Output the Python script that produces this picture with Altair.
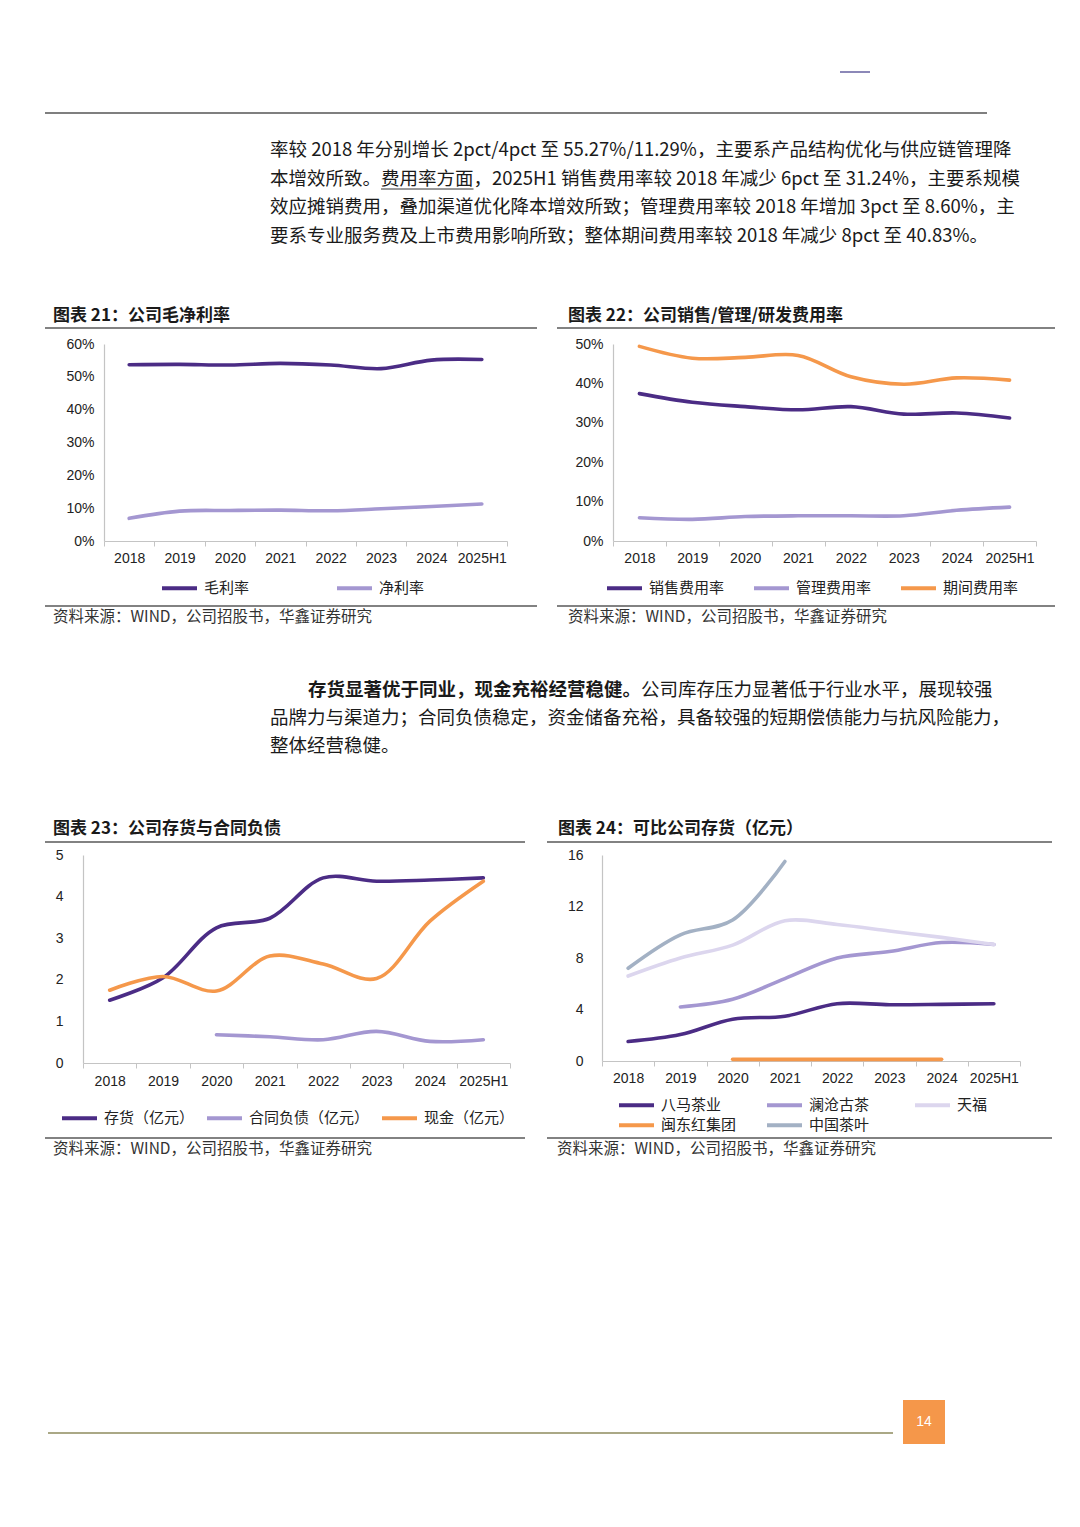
import altair as alt
import pandas as pd

CJK = "Noto Sans CJK SC"
LAT = "Liberation Sans"

# ---------------- data ----------------
years = ["2018", "2019", "2020", "2021", "2022", "2023", "2024", "2025H1"]

# 图表21 公司毛净利率 (%)
gross_margin = [53.7, 53.8, 53.6, 54.1, 53.6, 52.5, 55.1, 55.27]
net_margin = [6.9, 9.1, 9.3, 9.4, 9.2, 9.8, 10.5, 11.29]

# 图表22 公司销售/管理/研发费用率 (%)
selling_rate = [37.4, 35.2, 34.1, 33.3, 34.1, 32.2, 32.5, 31.24]
admin_rate = [5.9, 5.5, 6.2, 6.4, 6.4, 6.4, 7.8, 8.60]
period_rate = [49.4, 46.4, 46.6, 47.1, 41.7, 39.8, 41.4, 40.83]

# 图表23 公司存货与合同负债 (亿元)
inventory = [1.51, 2.05, 3.25, 3.48, 4.45, 4.37, 4.40, 4.45]
contract_liab = [None, None, 0.68, 0.63, 0.56, 0.76, 0.52, 0.56]
cash = [1.75, 2.08, 1.73, 2.57, 2.38, 2.03, 3.41, 4.37]

# 图表24 可比公司存货 (亿元)
bama = [1.51, 2.05, 3.25, 3.48, 4.45, 4.37, 4.40, 4.45]
lancang = [None, 4.2, 4.8, 6.4, 8.0, 8.5, 9.2, 9.05]
tianfu = [6.6, 8.0, 9.0, 10.9, 10.6, 10.1, 9.6, 9.05]
mindong = [None, None, 0.13, 0.13, 0.13, 0.13, 0.13, None]
china_tea = [7.2, 9.8, 10.95, 15.5, None, None, None, None]

para1 = [
    "率较 2018 年分别增长 2pct/4pct 至 55.27%/11.29%，主要系产品结构优化与供应链管理降",
    "本增效所致。费用率方面，2025H1 销售费用率较 2018 年减少 6pct 至 31.24%，主要系规模",
    "效应摊销费用，叠加渠道优化降本增效所致；管理费用率较 2018 年增加 3pct 至 8.60%，主",
    "要系专业服务费及上市费用影响所致；整体期间费用率较 2018 年减少 8pct 至 40.83%。",
]
para2_bold = "存货显著优于同业，现金充裕经营稳健。"
para2_rest = "公司库存压力显著低于行业水平，展现较强"
para2_lines = [
    "品牌力与渠道力；合同负债稳定，资金储备充裕，具备较强的短期偿债能力与抗风险能力，",
    "整体经营稳健。",
]
titles = ["图表 21：公司毛净利率", "图表 22：公司销售/管理/研发费用率",
          "图表 23：公司存货与合同负债", "图表 24：可比公司存货（亿元）"]
source = "资料来源：WIND，公司招股书，华鑫证券研究"
page_no = "14"

DARK = "#4b2c85"
LIGHT = "#a497d1"
ORANGE = "#f5984b"
LAVENDER = "#dcd6ee"
GREYBLUE = "#a3b1c4"

ONE = pd.DataFrame({"k": [0]})
PF = 18.5   # paragraph font size
TF = 17     # chart title font size
SF = 15.5   # source font size


def txt(s, x, y, size=PF, weight="normal", color="#1a1a1a", font=CJK, align="left"):
    return alt.Chart(ONE).mark_text(text=s, align=align, baseline="middle", fontSize=size,
                                    fontWeight=weight, color=color, font=font).encode(
        x=alt.value(x), y=alt.value(y))


def hline(x1, x2, y, color="#595959", w=1.5):
    return alt.Chart(ONE).mark_rule(color=color, strokeWidth=w).encode(
        x=alt.value(x1), x2=alt.value(x2), y=alt.value(y))


def spacer(w, h):
    return alt.Chart(ONE).mark_point(opacity=0, size=1).encode(
        x=alt.value(w / 2), y=alt.value(h / 2)).properties(width=w, height=h)


def long_df(series):
    rows = []
    for name, vals in series:
        for yr, v in zip(years, vals):
            if v is not None:
                rows.append({"year": yr, "series": name, "value": v})
    return pd.DataFrame(rows)


def enc_xy(ydomain, yvalues, ylabpad, xlabpad, pct):
    yaxis = dict(title=None, values=yvalues, ticks=False, grid=False, labelPadding=ylabpad,
                 labelFontSize=14, labelFont=LAT, labelColor="#222")
    if pct:
        yaxis["labelExpr"] = "datum.value + '%'"
    x = alt.X("year:N", sort=years,
              scale=alt.Scale(type="band", domain=years, paddingInner=0, paddingOuter=0),
              axis=alt.Axis(title=None, tickBand="extent", labelAngle=0, labelPadding=xlabpad,
                            tickSize=5, labelOverlap=False, labelFontSize=14, labelFont=LAT,
                            labelColor="#222", grid=False))
    y = alt.Y("value:Q", scale=alt.Scale(domain=ydomain, nice=False, zero=True),
              axis=alt.Axis(**yaxis))
    return x, y


def legend(**kw):
    return alt.Legend(title=None, orient="none", direction="horizontal",
                      symbolType="stroke", symbolStrokeWidth=4, symbolSize=1225,
                      labelFont=CJK, labelFontSize=15, labelColor="#222",
                      labelOffset=5, padding=0, **kw)


def line_mark(df):
    return alt.Chart(df).mark_line(interpolate="catmull-rom", strokeWidth=3.6, strokeCap="round")


def line_chart(series, colors, ydomain, yvalues, w, h, ylabpad, xlabpad, legend_kw, pct=False):
    order = [s[0] for s in series]
    x, y = enc_xy(ydomain, yvalues, ylabpad, xlabpad, pct)
    return line_mark(long_df(series)).encode(
        x=x, y=y,
        color=alt.Color("series:N", sort=order, scale=alt.Scale(domain=order, range=colors),
                        legend=legend(**legend_kw)),
    ).properties(width=w, height=h)


c21 = line_chart([("毛利率", gross_margin), ("净利率", net_margin)], [DARK, LIGHT],
                 [0, 60], [0, 10, 20, 30, 40, 50, 60], 403, 197, 10, 5,
                 dict(legendX=56, legendY=224.5, columns=2, columnPadding=79), pct=True)
c22 = line_chart([("销售费用率", selling_rate), ("管理费用率", admin_rate), ("期间费用率", period_rate)],
                 [DARK, LIGHT, ORANGE], [0, 50], [0, 10, 20, 30, 40, 50], 423, 197, 10, 5,
                 dict(legendX=-8, legendY=224.5, columns=3, columnPadding=21), pct=True)
c23 = line_chart([("存货（亿元）", inventory), ("合同负债（亿元）", contract_liab), ("现金（亿元）", cash)],
                 [DARK, LIGHT, ORANGE], [0, 5], [0, 1, 2, 3, 4, 5], 427, 208, 20, 6,
                 dict(legendX=-23, legendY=243.5, columns=3, columnPadding=4))

# chart 24: two legend rows -> two layers with their own colour channels
s24a = [("八马茶业", bama), ("澜沧古茶", lancang), ("天福", tianfu)]
s24b = [("闽东红集团", mindong), ("中国茶叶", china_tea)]
x24, y24 = enc_xy([0, 16], [0, 4, 8, 12, 16], 19, 5, False)
o_a = [s[0] for s in s24a]
o_b = [s[0] for s in s24b]
l24a = line_mark(long_df(s24a)).encode(
    x=x24, y=y24,
    color=alt.Color("series:N", sort=o_a, scale=alt.Scale(domain=o_a, range=[DARK, LIGHT, LAVENDER]),
                    legend=legend(legendX=15, legendY=230.5, columns=3, columnPadding=37,
                                  gridAlign="all")))
l24b = line_mark(long_df(s24b)).encode(
    x=x24, y=y24,
    stroke=alt.Stroke("series:N", sort=o_b, scale=alt.Scale(domain=o_b, range=[ORANGE, GREYBLUE]),
                      legend=legend(legendX=15, legendY=250.5, columns=2, columnPadding=22,
                                    gridAlign="all")))
c24 = alt.layer(l24a, l24b).resolve_scale(color="independent", stroke="independent").properties(
    width=418, height=206)

# ---------------- decorations (page coordinates minus block origin) ----------------
# block origins on the page: top 0, mid 344, bottom 855 (chart rows add no height in flush layout)
O_TOP, O_MID, O_BOT = 0, 344, 855

top_layers = [
    hline(840, 870, 72, color="#8c88b8", w=2),
    hline(45, 987, 113, color="#7f7f7f", w=2),
]
for i, line in enumerate(para1):
    top_layers.append(txt(line, 270, 150 + 28.5 * i))
top_layers.append(hline(270 + 6 * PF, 270 + 11 * PF, 189, color="#333", w=1))
top_layers += [
    txt(titles[0], 53, 316, size=TF, weight="bold"),
    txt(titles[1], 568, 316, size=TF, weight="bold"),
    hline(45, 537, 328),
    hline(557, 1055, 328),
]
top = alt.layer(*top_layers).properties(width=1080, height=O_MID - O_TOP)

m = O_MID
mid_layers = [
    hline(45, 537, 606 - m),
    hline(557, 1055, 606 - m),
    txt(source, 53, 617 - m, size=SF, color="#333"),
    txt(source, 568, 617 - m, size=SF, color="#333"),
    txt(para2_bold, 308, 690 - m, weight="bold"),
    txt(para2_rest, 308 + len(para2_bold) * PF, 690 - m),
    txt(para2_lines[0], 270, 718 - m),
    txt(para2_lines[1], 270, 746 - m),
    txt(titles[2], 53, 829 - m, size=TF, weight="bold"),
    txt(titles[3], 558, 829 - m, size=TF, weight="bold"),
    hline(45, 525, 842 - m),
    hline(547, 1052, 842 - m),
]
mid = alt.layer(*mid_layers).properties(width=1080, height=O_BOT - O_MID)

b = O_BOT
bottom_layers = [
    hline(45, 525, 1138 - b),
    hline(547, 1052, 1138 - b),
    txt(source, 53, 1149 - b, size=SF, color="#333"),
    txt(source, 557, 1149 - b, size=SF, color="#333"),
    hline(48, 893, 1433 - b, color="#aaa886", w=2),
    alt.Chart(ONE).mark_rect(color="#f5974a").encode(
        x=alt.value(903), x2=alt.value(945), y=alt.value(1400 - b), y2=alt.value(1444 - b)),
    txt(page_no, 924, 1422 - b, size=14, color="white", font=LAT, align="center"),
]
bottom = alt.layer(*bottom_layers).properties(width=1080, height=1527 - O_BOT)

row1 = alt.hconcat(spacer(104, 197), c21, spacer(106, 197), c22, spacer(44, 197),
                   spacing=0, bounds="flush").resolve_scale(color="independent")
row2 = alt.hconcat(spacer(83, 208), c23, spacer(92, 208), c24, spacer(60, 208),
                   spacing=0, bounds="flush").resolve_scale(color="independent")

chart = alt.vconcat(top, row1, mid, row2, bottom, spacing=0, bounds="flush").resolve_scale(
    color="independent").properties(padding=0, background="white").configure_view(
    stroke=None).configure_axis(domainColor="#c4c4c4", tickColor="#c4c4c4", domainWidth=1.2)

chart.save("out.html", embed_options={"renderer": "svg", "actions": False})
